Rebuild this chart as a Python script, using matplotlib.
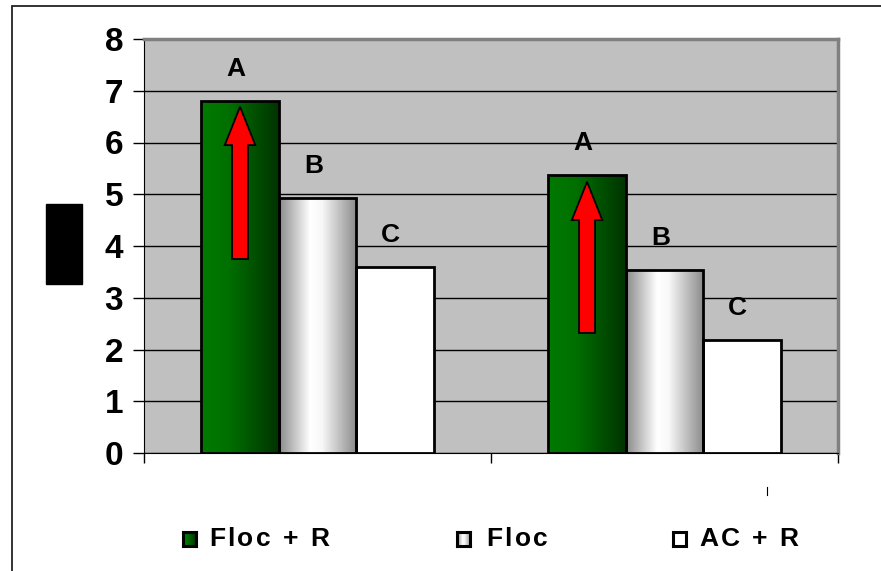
import numpy as np
import matplotlib
matplotlib.use("Agg")
import matplotlib.pyplot as plt
from matplotlib.patches import Rectangle, Polygon
from matplotlib.colors import LinearSegmentedColormap

plt.rcParams['font.family'] = ['Liberation Sans', 'DejaVu Sans']

# data
series = ["Floc + R", "Floc", "AC + R"]
values = [[6.80, 4.93, 3.59],   # group 1
          [5.37, 3.54, 2.18]]   # group 2
letters = ["A", "B", "C"]
arrow_tail = [3.75, 2.32]
arrow_tip = [6.69, 5.24]

green_cmap = LinearSegmentedColormap.from_list(
    "g", [(0, "#007a00"), (0.35, "#007000"), (1, "#003300")])
gray_cmap = LinearSegmentedColormap.from_list(
    "s", [(0, "#8a8a8a"), (0.4, "#ffffff"), (0.55, "#f8f8f8"), (1, "#8a8a8a")])
white_cmap = LinearSegmentedColormap.from_list("w", ["#ffffff", "#ffffff"])
cmaps = [green_cmap, gray_cmap, white_cmap]

fig = plt.figure(figsize=(8.81, 5.71), dpi=100)
ax = fig.add_axes([144 / 881, 118 / 571, 694 / 881, 414 / 571])
ax.set_facecolor("#c0c0c0")
ax.set_xlim(0, 2)
ax.set_ylim(0, 8)

w = 0.2233
grad = np.linspace(0, 1, 256).reshape(1, -1)
for g, vals in enumerate(values):
    center = g + 0.5
    for i, v in enumerate(vals):
        x = center + (i - 1) * w
        bars = ax.bar(x, v, width=w, facecolor="none", edgecolor="black",
                      linewidth=2, zorder=4)
        im = ax.imshow(grad, cmap=cmaps[i], aspect="auto",
                       extent=[x - w / 2, x + w / 2, 0, v], zorder=3)
        im.set_clip_path(bars[0])
        ax.text(x - 0.012, v + 0.62, letters[i], ha="center", va="center",
                fontsize=19, fontweight="bold", zorder=6)
    # red arrow on the first bar
    ax_c = center - w
    sh = 0.023
    hw = 0.044
    hl = 0.74
    t, tip = arrow_tail[g], arrow_tip[g]
    pts = [(ax_c - sh, t), (ax_c + sh, t), (ax_c + sh, tip - hl),
           (ax_c + hw, tip - hl), (ax_c, tip), (ax_c - hw, tip - hl),
           (ax_c - sh, tip - hl)]
    ax.add_patch(Polygon(pts, closed=True, facecolor="#ff0000",
                         edgecolor="black", linewidth=1.3, zorder=5))

ax.set_yticks(range(0, 9))
ax.yaxis.grid(True, color="black", linewidth=1)
ax.set_axisbelow(True)
ax.tick_params(axis="y", length=8, width=1, pad=7, labelsize=24)
for lab in ax.get_yticklabels():
    lab.set_fontweight("bold")
ax.set_xticks([0, 1, 2])
ax.set_xticklabels([])
ax.tick_params(axis="x", length=7, width=1, direction="out")
ax.spines["left"].set_color("black")
ax.spines["bottom"].set_color("black")
ax.spines["top"].set_color("#808080")
ax.spines["right"].set_color("#808080")
ax.spines["top"].set_linewidth(2.5)
ax.spines["right"].set_linewidth(2.5)

# outer frame, left and top edges visible
fig.patches.append(Rectangle((12 / 881, -0.1), 1.2, 0.1 + 565 / 571,
                             transform=fig.transFigure, fill=False,
                             edgecolor="#222222", linewidth=1.3))
# black box where the axis title was
fig.patches.append(Rectangle((46 / 881, 287 / 571), 36 / 881, 80 / 571,
                             transform=fig.transFigure, color="black"))
# small stray tick
fig.add_artist(plt.Line2D([767 / 881, 767 / 881], [76 / 571, 84 / 571],
                          transform=fig.transFigure, color="black", linewidth=0.8))

# legend, letters drawn one by one with extra tracking
marker_x = [183, 457, 673]
text_x = [209, 486, 699]
renderer = fig.canvas.get_renderer()
tracking = 2.5
for i, name in enumerate(series):
    m = fig.add_axes([marker_x[i] / 881, 25 / 571, 13 / 881, 14 / 571])
    m.imshow(grad, cmap=cmaps[i], aspect="auto")
    m.set_xticks([])
    m.set_yticks([])
    for s in m.spines.values():
        s.set_linewidth(2.2)
    px = text_x[i]
    for ch in name:
        if ch == " ":
            px += 7 + tracking
            continue
        t = fig.text(px / 881, 32 / 571, ch, fontsize=19, fontweight="bold",
                     ha="left", va="center")
        px += t.get_window_extent(renderer).width + tracking

fig.savefig("out.png", dpi=100)
